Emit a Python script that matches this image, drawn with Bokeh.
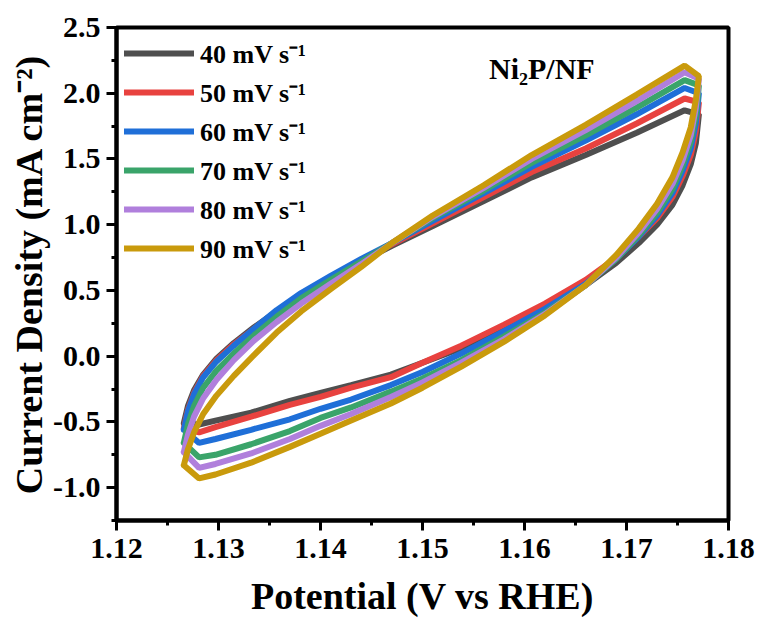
from bokeh.plotting import figure
from bokeh.models import Range1d, Legend, LegendItem, Label, SingleIntervalTicker, NumeralTickFormatter
from bokeh.embed import file_html
from bokeh.resources import INLINE

# ---- data ----
rates = ["40 mV s⁻¹", "50 mV s⁻¹", "60 mV s⁻¹", "70 mV s⁻¹", "80 mV s⁻¹", "90 mV s⁻¹"]
colors = ["#4f4f4f", "#e8423f", "#1f6fd8", "#3aa46a", "#b07fdc", "#c99a0c"]

# anodic (upper) branch potentials, V vs RHE
x_up = [1.1266, 1.1270, 1.1276, 1.1285, 1.1298, 1.1315, 1.1335, 1.1357, 1.1381,
        1.1410, 1.1440, 1.1470, 1.1510, 1.1560, 1.1607, 1.1660, 1.1710, 1.1757]
y_up_40 = [-0.51, -0.38, -0.26, -0.14, -0.02, 0.10, 0.22, 0.34, 0.47, 0.60, 0.72, 0.84, 0.99, 1.18, 1.36, 1.53, 1.70, 1.87]
y_up_50 = [-0.55, -0.41, -0.28, -0.15, -0.03, 0.09, 0.21, 0.34, 0.47, 0.60, 0.73, 0.85, 1.01, 1.21, 1.40, 1.58, 1.77, 1.96]
y_up_60 = [-0.56, -0.42, -0.29, -0.16, -0.04, 0.08, 0.21, 0.35, 0.48, 0.61, 0.74, 0.86, 1.03, 1.24, 1.44, 1.64, 1.84, 2.04]
y_up_70 = [-0.66, -0.52, -0.38, -0.24, -0.11, 0.02, 0.16, 0.30, 0.44, 0.58, 0.72, 0.86, 1.05, 1.26, 1.47, 1.68, 1.89, 2.10]
y_up_80 = [-0.73, -0.60, -0.46, -0.32, -0.18, -0.03, 0.12, 0.26, 0.40, 0.55, 0.70, 0.86, 1.06, 1.28, 1.50, 1.72, 1.94, 2.16]
y_up_90 = [-0.83, -0.71, -0.58, -0.44, -0.30, -0.15, 0.01, 0.18, 0.34, 0.51, 0.68, 0.86, 1.07, 1.30, 1.53, 1.76, 1.99, 2.21]

# cathodic (lower) branch potentials, from the vertex back down
x_dn = [1.1771, 1.1768, 1.1763, 1.1755, 1.1745, 1.1730, 1.1712, 1.1690, 1.1660, 1.1620,
        1.1580, 1.1538, 1.1500, 1.1469, 1.1430, 1.1400, 1.1370, 1.1332, 1.1297, 1.1281]
y_dn_40 = [1.84, 1.62, 1.46, 1.30, 1.15, 1.00, 0.86, 0.71, 0.54, 0.36, 0.21, 0.06, -0.05, -0.14, -0.22, -0.28, -0.34, -0.43, -0.49, -0.52]
y_dn_50 = [1.93, 1.71, 1.53, 1.37, 1.21, 1.05, 0.91, 0.75, 0.58, 0.40, 0.24, 0.08, -0.05, -0.16, -0.24, -0.31, -0.37, -0.46, -0.54, -0.58]
y_dn_60 = [2.00, 1.77, 1.58, 1.41, 1.24, 1.07, 0.91, 0.74, 0.55, 0.36, 0.19, 0.02, -0.12, -0.22, -0.33, -0.40, -0.48, -0.56, -0.63, -0.66]
y_dn_70 = [2.06, 1.83, 1.63, 1.45, 1.27, 1.09, 0.92, 0.74, 0.54, 0.33, 0.15, -0.03, -0.17, -0.27, -0.39, -0.47, -0.57, -0.67, -0.75, -0.77]
y_dn_80 = [2.11, 1.89, 1.68, 1.49, 1.31, 1.12, 0.94, 0.75, 0.54, 0.32, 0.13, -0.05, -0.20, -0.31, -0.44, -0.53, -0.63, -0.74, -0.82, -0.85]
y_dn_90 = [2.13, 1.95, 1.74, 1.55, 1.36, 1.16, 0.97, 0.77, 0.54, 0.31, 0.11, -0.08, -0.24, -0.36, -0.49, -0.59, -0.69, -0.81, -0.90, -0.93]

y_up = [y_up_40, y_up_50, y_up_60, y_up_70, y_up_80, y_up_90]
y_dn = [y_dn_40, y_dn_50, y_dn_60, y_dn_70, y_dn_80, y_dn_90]

x_title = "Potential (V vs RHE)"
y_title = "Current Density (mA cm⁻²)"

FONT = "Liberation Serif"

p = figure(width=760, height=621, output_backend="svg", toolbar_location=None,
           x_range=Range1d(1.12, 1.18), y_range=Range1d(-1.25, 2.5),
           min_border_left=116, min_border_right=32, min_border_top=27, min_border_bottom=101)
p.grid.visible = False
p.background_fill_color = "white"
p.border_fill_color = "white"
p.outline_line_color = "black"
p.outline_line_width = 4

items = []
for i in range(6):
    xs = x_up + x_dn + [x_up[0]]
    ys = y_up[i] + y_dn[i] + [y_up[i][0]]
    r = p.line(xs, ys, line_color=colors[i], line_width=6, line_join="bevel", line_cap="round")
    items.append(LegendItem(label=rates[i], renderers=[r]))

legend = Legend(items=items, location="top_left", margin=0, padding=8,
                glyph_width=70, glyph_height=30, label_height=30, spacing=3,
                label_standoff=6, border_line_alpha=0, background_fill_alpha=0,
                label_text_font=FONT, label_text_font_style="bold",
                label_text_font_size="26px", label_text_color="black")
p.add_layout(legend)

p.add_layout(Label(x=1.1617, y=2.19, text="Ni₂P/NF", text_align="center", text_baseline="middle",
                   text_font=FONT, text_font_style="bold", text_font_size="30px", text_color="black"))

for ax in (p.xaxis[0], p.yaxis[0]):
    ax.axis_line_width = 4
    ax.major_tick_line_width = 3
    ax.minor_tick_line_width = 3
    ax.major_tick_out = 10
    ax.major_tick_in = 0
    ax.minor_tick_out = 5
    ax.minor_tick_in = 0
    ax.major_label_text_font = FONT
    ax.major_label_text_font_style = "bold"
    ax.major_label_text_font_size = "30px"
    ax.major_label_text_color = "black"
    ax.axis_label_text_font = FONT
    ax.axis_label_text_font_style = "bold"
    ax.axis_label_text_font_size = "38px"
    ax.axis_label_text_color = "black"

p.xaxis.ticker = SingleIntervalTicker(interval=0.01, num_minor_ticks=2)
p.yaxis.ticker = SingleIntervalTicker(interval=0.5, num_minor_ticks=2)
p.xaxis.formatter = NumeralTickFormatter(format="0.00")
p.yaxis.formatter = NumeralTickFormatter(format="0.0")
p.xaxis.major_label_standoff = 8
p.yaxis.major_label_standoff = 6

p.xaxis.axis_label = x_title
p.yaxis.axis_label = y_title
p.xaxis.axis_label_standoff = 14
p.yaxis.axis_label_standoff = 0

open("out.html", "w").write(file_html(p, INLINE))
